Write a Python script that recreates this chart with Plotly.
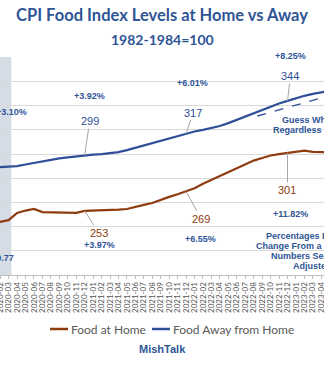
import plotly.graph_objects as go

# Monthly CPI index levels (1982-1984=100), seasonally adjusted
months = [f"{y}-{m:02d}" for y in range(2020, 2024) for m in range(1, 13)][:41]

food_at_home = [
    243.5, 244.0, 245.4, 251.3, 253.3, 254.6, 252.0, 251.8, 251.3, 251.2, 251.4, 253.0,
    253.2, 253.3, 253.5, 254.0, 254.6, 256.5, 258.0, 259.5, 262.3, 264.6, 266.8, 269.0,
    271.8, 275.5, 278.6, 281.8, 285.0, 288.0, 291.5, 294.6, 296.8, 298.8, 300.0, 301.0,
    302.2, 302.8, 301.8, 301.5, 301.6,
]
food_away = [
    288.8, 289.3, 289.5, 290.0, 291.4, 292.8, 294.2, 295.4, 296.4, 297.3, 298.2, 299.0,
    299.6, 300.0, 300.5, 301.6, 303.3, 305.2, 307.0, 308.8, 310.8, 312.6, 314.6, 317.0,
    318.7, 320.0, 321.4, 323.2, 325.6, 328.3, 331.0, 333.8, 336.6, 339.3, 341.8, 344.0,
    346.4, 348.2, 349.8, 351.2, 352.4,
]

# December callouts: (month, value label, year-over-year change)
home_callouts = [("2020-12", "253", "+3.97%"), ("2021-12", "269", "+6.55%"), ("2022-12", "301", "+11.82%")]
away_callouts = [("2020-12", "299", "+3.92%"), ("2021-12", "317", "+6.01%"), ("2022-12", "344", "+8.25%")]

BROWN = "#8E3B10"
BLUE = "#2F4F98"
TEXT_BLUE = "#2F5597"
GRAY = "#595959"

fig = go.Figure()
fig.add_trace(go.Scatter(x=months, y=food_at_home, mode="lines", name="Food at Home",
                         line=dict(color=BROWN, width=2.2)))
fig.add_trace(go.Scatter(x=months, y=food_away, mode="lines", name="Food Away from Home",
                         line=dict(color=BLUE, width=2.2)))

# recession shading
fig.add_shape(type="rect", xref="x", yref="paper", x0=-1, x1=2.32, y0=0, y1=1,
              fillcolor="#D6DCE5", line_width=0, layer="below")

# dashed guide toward the future
fig.add_shape(type="line", xref="x", yref="y", x0=31.43, y0=331.5, x1=41, y1=350.4,
              line=dict(color=BLUE, width=1.3, dash="dash"))

num_font = dict(family="Liberation Sans", size=11)
pct_font = dict(family="Liberation Sans", size=9, color=TEXT_BLUE)

def val(series, month):
    return series[months.index(month)]

home_offsets = [(14, 22), (15, 27), (0, 37)]
away_offsets = [(5, -34), (7, -21), (3, -25)]
for (m, lab, _), (ax, ay) in zip(home_callouts, home_offsets):
    fig.add_annotation(x=m, y=val(food_at_home, m), text=lab, showarrow=True, arrowhead=0,
                       arrowwidth=1, arrowcolor="#A6A6A6", ax=ax, ay=ay,
                       font=dict(**num_font, color=BROWN))
for (m, lab, _), (ax, ay) in zip(away_callouts, away_offsets):
    fig.add_annotation(x=m, y=val(food_away, m), text=lab, showarrow=True, arrowhead=0,
                       arrowwidth=1, arrowcolor="#A6A6A6", ax=ax, ay=ay,
                       font=dict(**num_font, color=BLUE))

# percent change labels (positions in axis units)
pct_positions = {
    "+3.10%": (2.32, 334.6), "+3.92%": (11.55, 348.0), "+6.01%": (23.74, 358.7),
    "+3.97%": (12.73, 224.8), "+6.55%": (24.69, 229.7), "+11.82%": (35.33, 250.5),
}
for txt, (xp, yp) in pct_positions.items():
    fig.add_annotation(x=xp, y=yp, text=f"<b>{txt}</b>", showarrow=False, font=pct_font)
fig.add_annotation(x=35.33, y=380, yshift=1, text="<b>+8.25%</b>", showarrow=False,
                   font=pct_font)
fig.add_annotation(x=2.91, y=214.0, text="<b>+0.77</b>", showarrow=False,
                   xanchor="right", font=pct_font)

# side notes
fig.add_annotation(x=34.15, y=328.5, text="<b>Guess Where Prices Go</b>", showarrow=False,
                   xanchor="left", font=pct_font)
fig.add_annotation(x=33.09, y=320.3, text="<b>Regardless of Costs</b>", showarrow=False,
                   xanchor="left", font=pct_font)
note_lines = [
    ("Percentages Represent", 32.23, 232.25),
    ("Change From a Year Earlier", 31.04, 223.98),
    ("Numbers Seasonally", 32.82, 215.71),
    ("Adjusted", 35.45, 207.44),
]
for txt, xp, yp in note_lines:
    fig.add_annotation(x=xp, y=yp, text=f"<b>{txt}</b>", showarrow=False,
                       xanchor="left", font=pct_font)

fig.add_annotation(xref="paper", yref="paper", x=0.5, y=1.0, yshift=18, yanchor="middle",
                   text="<b>1982-1984=100</b>", showarrow=False,
                   font=dict(family="Lato", size=14, color=TEXT_BLUE))
fig.add_annotation(xref="paper", yref="paper", x=0.5, y=0, yshift=-74, yanchor="middle",
                   text="<b>MishTalk</b>", showarrow=False,
                   font=dict(family="Liberation Sans", size=11, color=TEXT_BLUE))

# legend row below the axis labels
legend_items = [("Food at Home", BROWN, 50), ("Food Away from Home", BLUE, 152)]
for name, color, left_px in legend_items:
    fig.add_shape(type="line", xref="paper", yref="paper",
                  x0=left_px / 324, x1=(left_px + 18) / 324,
                  y0=-54 / 218, y1=-54 / 218, line=dict(color=color, width=2.5))
    fig.add_annotation(xref="paper", yref="paper", x=(left_px + 19) / 324, y=-54 / 218,
                       xanchor="left", yanchor="middle", text=name, showarrow=False,
                       font=dict(family="Lato", size=12, color=GRAY))

fig.update_layout(
    width=324, height=368,
    margin=dict(l=0, r=0, t=57, b=93, autoexpand=False),
    paper_bgcolor="white", plot_bgcolor="white",
    title=dict(text="<b>CPI Food Index Levels at Home vs Away</b>", x=0.5, xanchor="center",
               y=0.959, yanchor="middle", yref="container",
               font=dict(family="Lato", size=16.5, color=TEXT_BLUE)),
    showlegend=False,
    xaxis=dict(type="category", range=[0.982, 39.32], tickmode="linear", tick0=0, dtick=1,
               tickangle=-90, tickfont=dict(family="Lato", size=8, color=GRAY),
               ticks="outside", ticklen=3, tickcolor="#BFBFBF", automargin=False,
               showline=True, linecolor="#BFBFBF", showgrid=False),
    yaxis=dict(range=[200, 380.3], dtick=20, tick0=200, gridcolor="#D9D9D9",
               showticklabels=False, zeroline=False, showline=False, automargin=False),
)

fig.write_html("out.html")
